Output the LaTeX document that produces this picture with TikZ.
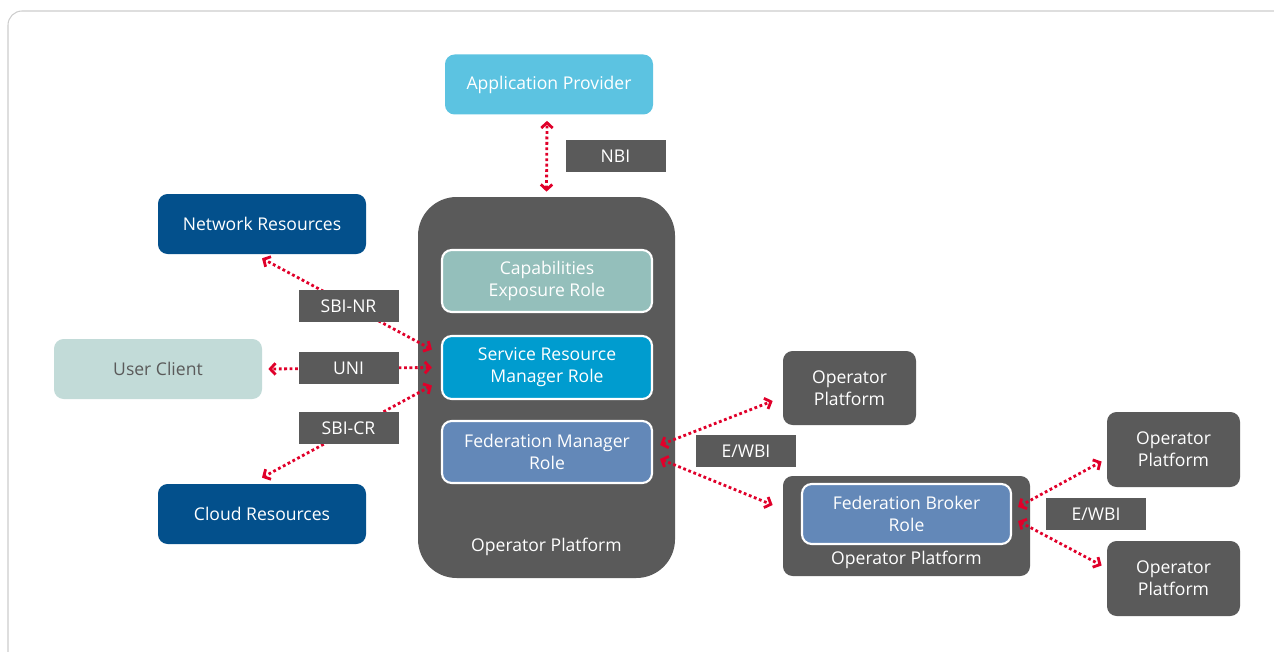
\documentclass[tikz,border=0pt]{standalone}
\usepackage{fontspec}
\setmainfont{Open Sans}
\usetikzlibrary{arrows.meta, positioning}
\definecolor{gris}{HTML}{5A5A5A}
\definecolor{cadregris}{HTML}{CDCDCD}
\definecolor{rouge}{HTML}{E0002A}
\definecolor{cyanclair}{HTML}{5CC3E1}
\definecolor{vertgris}{HTML}{94BFBB}
\definecolor{cyanfonce}{HTML}{009CCF}
\definecolor{bleugris}{HTML}{6388B8}
\definecolor{bleufonce}{HTML}{03508C}
\definecolor{vertpale}{HTML}{C2DBD8}

\begin{document}
\begin{tikzpicture}[x=0.02cm,y=-0.02cm]
            % Styles
            \tikzstyle{boite}=[rectangle,rounded corners=5.5pt,text=white,align=center,inner sep=0pt,font=\fontsize{10}{12.5}\selectfont]
            \tikzstyle{role}=[boite,draw=white,line width=1.2pt]
            \tikzstyle{plateforme}=[boite,fill=gris]
            \tikzstyle{etiquette}=[rectangle,fill=gris,text=white,inner sep=0pt,font=\fontsize{10}{12.5}\selectfont]
            \tikzstyle{texte}=[text=white,inner sep=0pt,font=\fontsize{10}{12.5}\selectfont]
            \tikzstyle{fleche}=[{Straight Barb[length=3pt,width=6.5pt]}-{Straight Barb[length=3pt,width=6.5pt]},draw=rouge,line width=1.6pt,dash pattern=on 1.6pt off 1.5pt]
            % Dimensions
            \def\Pixel{0.02cm}
            \def\LargeurBoite{208*\Pixel}
            \def\HauteurBoite{60*\Pixel}
            \def\LargeurRole{210*\Pixel}
            \def\LargeurEtiquette{100*\Pixel}
            \def\HauteurEtiquette{32*\Pixel}
            % Cadre
            \clip (0,0) rectangle (1274,652);
            \draw[cadregris,line width=0.6pt,rounded corners=8pt] (8,11) rectangle (1300,700);
            % Noeuds
            \node[boite,fill=cyanclair,minimum width={\LargeurBoite},minimum height={\HauteurBoite}] (AP) at (549,84.5) {Application Provider};
            \node[plateforme,rounded corners=22pt,minimum width={257*\Pixel},minimum height={381*\Pixel}] (OP) at (546.5,387.5) {};
            \node[texte] (OPt) at (546.5,547) {Operator Platform};
            \node[role,fill=vertgris,minimum width={\LargeurRole},minimum height={62*\Pixel}] (CE) at (547,281) {Capabilities\\Exposure Role};
            \node[role,fill=cyanfonce,minimum width={\LargeurRole},minimum height={63*\Pixel}] (SRM) at (547,367.5) {Service Resource\\Manager Role};
            \node[role,fill=bleugris,minimum width={\LargeurRole},minimum height={62*\Pixel}] (FM) at (547,452) {Federation Manager\\Role};
            \node[boite,fill=bleufonce,minimum width={\LargeurBoite},minimum height={\HauteurBoite}] (NR) at (262,224) {Network Resources};
            \node[boite,fill=vertpale,text=gris,minimum width={\LargeurBoite},minimum height={\HauteurBoite}] (UC) at (158,369) {User Client};
            \node[boite,fill=bleufonce,minimum width={\LargeurBoite},minimum height={\HauteurBoite}] (CR) at (262,514) {Cloud Resources};
            \node[plateforme,minimum width={133*\Pixel},minimum height={74*\Pixel}] (OPa) at (849.5,388) {Operator\\Platform};
            \node[plateforme,minimum width={247*\Pixel},minimum height={100*\Pixel}] (OPd) at (906.5,526) {};
            \node[role,fill=bleugris,minimum width={209*\Pixel},minimum height={\HauteurBoite}] (FB) at (906.5,514) {Federation Broker\\Role};
            \node[texte] (OPdt) at (906.5,560) {Operator Platform};
            \node[plateforme,minimum width={133*\Pixel},minimum height={75*\Pixel}] (OPb) at (1173.5,449.5) {Operator\\Platform};
            \node[plateforme,minimum width={133*\Pixel},minimum height={75*\Pixel}] (OPc) at (1173.5,578.5) {Operator\\Platform};
            % Arcs
            \draw[fleche] ([shift={(0,-5)}]OP.north) -- ([shift={(-2,6)}]AP.south);
            \draw[fleche] ([shift={(-9,-18)}]SRM.west) -- ([shift={(0,4)}]NR.south);
            \draw[fleche] ([shift={(-9,0)}]SRM.west) -- ([shift={(6,0)}]UC.east);
            \draw[fleche] ([shift={(-9,18)}]SRM.west) -- ([shift={(0,-6)}]CR.north);
            \draw[fleche] ([shift={(7,-7)}]FM.east) -- ([shift={(-10,13)}]OPa.west);
            \draw[fleche] ([shift={(7,7)}]FM.east) -- ([shift={(-10,-21)}]OPd.west);
            \draw[fleche] ([shift={(6,-7)}]FB.east) -- ([shift={(-5,12)}]OPb.west);
            \draw[fleche] ([shift={(6,7)}]FB.east) -- ([shift={(-5,-13)}]OPc.west);
            % Etiquettes
            \node[etiquette,minimum width={\LargeurEtiquette},minimum height={\HauteurEtiquette}] (NBI) at (615.5,156) {NBI};
            \node[etiquette,minimum width={\LargeurEtiquette},minimum height={\HauteurEtiquette}] (SBInr) at (348.5,306) {SBI-NR};
            \node[etiquette,minimum width={\LargeurEtiquette},minimum height={\HauteurEtiquette}] (UNI) at (348.5,368) {UNI};
            \node[etiquette,minimum width={\LargeurEtiquette},minimum height={\HauteurEtiquette}] (SBIcr) at (348.5,428) {SBI-CR};
            \node[etiquette,minimum width={\LargeurEtiquette},minimum height={\HauteurEtiquette}] (EWBIa) at (746,451) {E/WBI};
            \node[etiquette,minimum width={\LargeurEtiquette},minimum height={\HauteurEtiquette}] (EWBIb) at (1096,514) {E/WBI};
        \end{tikzpicture}
\end{document}
